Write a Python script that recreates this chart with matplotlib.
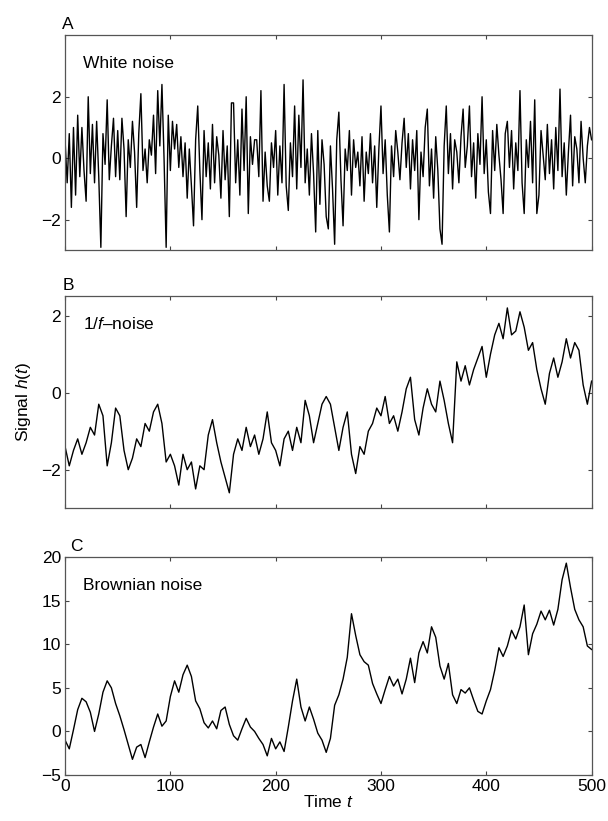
import matplotlib
matplotlib.use("Agg")
import matplotlib.pyplot as plt
import numpy as np

plt.rcParams.update({
    "font.family": "Liberation Sans",
    "font.size": 12.5,
    "mathtext.fontset": "custom",
    "mathtext.it": "Liberation Sans:italic",
    "mathtext.rm": "Liberation Sans",
    "xtick.direction": "in",
    "ytick.direction": "in",
    "xtick.top": True,
    "ytick.right": True,
    "axes.linewidth": 0.9,
})

# A) ruído branco, lido a cada 2 unidades de tempo (0..500)
ruido_branco = [
    0.6, -0.8, 0.8, -1.6, 1.0, -1.2, 1.4, -0.6, 1.0, -0.4, -1.4, 2.0, -0.5, 1.1, -0.8, 1.2, -0.6, -2.9, 0.8, -0.2, 1.9, -0.7, 0.4, 1.3, -0.6,
    0.9, -0.7, 1.3, 0.3, -1.9, 0.6, -0.3, 1.2, 0.2, -1.6, 0.8, 2.1, -0.4, 0.3, -0.8, 0.6, 0.1, 1.4, -0.5, 2.2, 0.4, 2.4, 0.0, -2.9, 1.4,
    -0.4, 1.2, 0.3, 1.1, -0.3, 0.7, -0.6, 0.5, -1.3, 0.3, -0.9, -2.2, 0.6, 1.7, -0.4, -2.0, 0.9, -0.6, 0.5, -1.0, 1.1, -0.8, 0.7, 0.1, -1.3,
    0.9, -0.7, 0.4, -1.9, 1.8, 1.8, -0.8, 0.6, -1.2, 1.6, -0.4, 2.0, -1.8, 0.7, -0.2, 0.6, 0.6, -0.6, 2.2, -1.4, 0.2, -0.9, -1.4, 0.5, -0.3,
    0.9, -1.2, 0.4, -0.8, 2.4, -0.9, -1.7, 0.5, -0.6, 1.7, -1.0, 1.4, -0.3, 2.55, -0.8, 0.3, -1.2, 0.8, -0.5, -2.4, 0.9, -1.5, 0.6, -0.2, -1.9,
    -2.3, 0.4, -1.0, -2.8, 0.6, 1.5, -0.7, -2.2, 0.3, -0.4, 0.9, -1.2, 0.6, -0.3, 0.2, -0.9, 0.7, -1.4, 0.2, -0.5, 0.8, -0.8, 0.4, -1.6, 0.3,
    1.7, -0.5, 0.6, -1.2, -2.4, 0.4, -0.6, 0.9, 0.2, -0.7, 0.5, 1.3, -0.3, 0.8, -1.0, 0.6, -0.4, 0.9, -2.0, 0.2, -0.6, 1.0, 1.6, -0.9, 0.3,
    -1.3, 0.7, -0.4, -2.3, -2.8, 0.4, 1.7, -0.5, 0.8, -1.0, 0.6, 0.2, -0.8, 0.7, 1.6, -0.3, 0.4, 1.7, -0.6, 0.5, -1.3, 0.8, -0.2, 2.0, -0.5,
    0.6, -1.1, -1.8, 0.9, -0.4, 1.1, 0.1, -0.7, -1.8, 0.8, 1.2, -0.3, 0.9, -1.0, 0.5, -0.4, 2.2, -0.8, -1.8, 0.6, -0.3, 1.2, -0.8, 1.9, -1.8,
    -1.2, 0.9, 0.1, -0.7, 1.1, -0.5, 0.6, -1.0, 1.0, -0.4, 2.25, -0.6, 0.5, -1.2, 0.2, 1.4, -0.9, 0.7, 0.3, -0.8, 1.2, 0.0, -0.8, 0.4, 1.0,
    0.6,
]

# B) ruído 1/f, lido a cada 4 unidades de tempo
ruido_1f = [
    -1.4, -1.9, -1.5, -1.2, -1.6, -1.3, -0.9, -1.1, -0.3, -0.6, -1.9, -1.3, -0.4, -0.6, -1.5, -2.0,
    -1.7, -1.2, -1.4, -0.8, -1.0, -0.5, -0.3, -0.8, -1.8, -1.6, -1.9, -2.4, -1.6, -2.0, -1.8, -2.5,
    -1.9, -2.0, -1.1, -0.7, -1.3, -1.8, -2.2, -2.6, -1.6, -1.2, -1.5, -0.9, -1.4, -1.1, -1.6, -1.2,
    -0.5, -1.3, -1.5, -1.9, -1.2, -1.0, -1.5, -0.9, -1.3, -0.2, -0.6, -1.3, -0.8, -0.3, -0.1, -0.3,
    -0.9, -1.5, -0.9, -0.5, -1.6, -2.1, -1.4, -1.6, -1.0, -0.8, -0.4, -0.6, -0.1, -0.8, -0.6, -1.0,
    -0.5, 0.1, 0.4, -0.7, -1.1, -0.4, 0.1, -0.3, -0.5, 0.3, -0.2, -0.8, -1.3, 0.8, 0.3, 0.7,
    0.2, 0.6, 0.9, 1.2, 0.4, 1.0, 1.5, 1.8, 1.4, 2.2, 1.5, 1.6, 2.1, 1.7, 1.1, 1.3,
    0.6, 0.1, -0.3, 0.5, 0.9, 0.4, 0.8, 1.4, 0.9, 1.3, 1.1, 0.2, -0.3, 0.3,
]

# C) ruído browniano, lido a cada 4 unidades de tempo
ruido_browniano = [
    -1.0, -2.0, 0.2, 2.5, 3.8, 3.4, 2.2, 0.0, 2.0, 4.5, 5.8, 5.0, 3.2, 1.8, 0.2, -1.5,
    -3.2, -1.8, -1.5, -3.0, -1.2, 0.5, 2.0, 0.6, 1.2, 4.0, 5.8, 4.5, 6.5, 7.6, 6.3, 3.5,
    2.6, 1.0, 0.4, 1.2, 0.3, 2.4, 2.8, 0.8, -0.5, -1.0, 0.3, 1.5, 0.5, 0.0, -0.8, -1.5,
    -2.8, -0.8, -2.0, -1.2, -2.3, 0.5, 3.5, 6.0, 2.8, 1.2, 2.8, 1.4, -0.2, -1.0, -2.4, -0.8,
    3.0, 4.2, 6.0, 8.5, 13.5, 11.0, 8.8, 8.0, 7.6, 5.5, 4.3, 3.2, 4.8, 6.3, 5.2, 6.0,
    4.3, 6.0, 8.4, 5.6, 9.0, 10.3, 9.0, 12.0, 10.8, 7.5, 6.0, 7.8, 4.2, 3.2, 4.8, 4.4,
    5.0, 3.6, 2.3, 2.0, 3.5, 4.8, 7.0, 9.6, 8.6, 9.8, 11.6, 10.6, 12.0, 14.5, 8.8, 11.2,
    12.3, 13.8, 12.8, 13.9, 12.2, 14.0, 17.4, 19.3, 16.5, 14.0, 12.8, 12.0, 9.8, 9.4,
]

PAINEIS = [
    ("A", "White noise", ruido_branco, (-3, 4), [-2, 0, 2]),
    ("B", "1/$f$–noise", ruido_1f, (-3, 2.5), [-2, 0, 2]),
    ("C", "Brownian noise", ruido_browniano, (-5, 20), [-5, 0, 5, 10, 15, 20]),
]

fig = plt.figure(figsize=(6.08, 8.21), dpi=100)
posicoes = [(0.107, 0.695, 0.866, 0.262),
            (0.107, 0.381, 0.866, 0.258),
            (0.107, 0.056, 0.866, 0.2655)]

for (letra, titulo, valores, ylim, yticks), pos in zip(PAINEIS, posicoes):
    ax = fig.add_axes(pos)
    t = np.linspace(0, 500, len(valores))
    ax.plot(t, valores, color="black", linewidth=1.0)
    ax.set_xlim(0, 500)
    ax.set_ylim(*ylim)
    ax.set_yticks(yticks)
    ax.set_yticklabels([str(v).replace("-", "−") for v in yticks])
    ax.set_xticks([0, 100, 200, 300, 400, 500])
    ax.tick_params(length=3, width=0.8, color="#444444", pad=3)
    for s in ax.spines.values():
        s.set_color("#555555")
    ax.text(0.035, 0.87, titulo, transform=ax.transAxes, ha="left", va="center",
            fontsize=12.5)
    ax.text(-0.005 if letra != "C" else 0.01, 1.015, letra, transform=ax.transAxes,
            ha="left", va="bottom", fontsize=12.5)
    if letra == "C":
        ax.set_xlabel("Time $t$", fontsize=12.5, labelpad=0)
    else:
        ax.tick_params(labelbottom=False)
    if letra == "B":
        ax.set_ylabel("Signal $h(t)$", fontsize=12.5, labelpad=6)

fig.savefig("out.png", dpi=100, facecolor="white")
